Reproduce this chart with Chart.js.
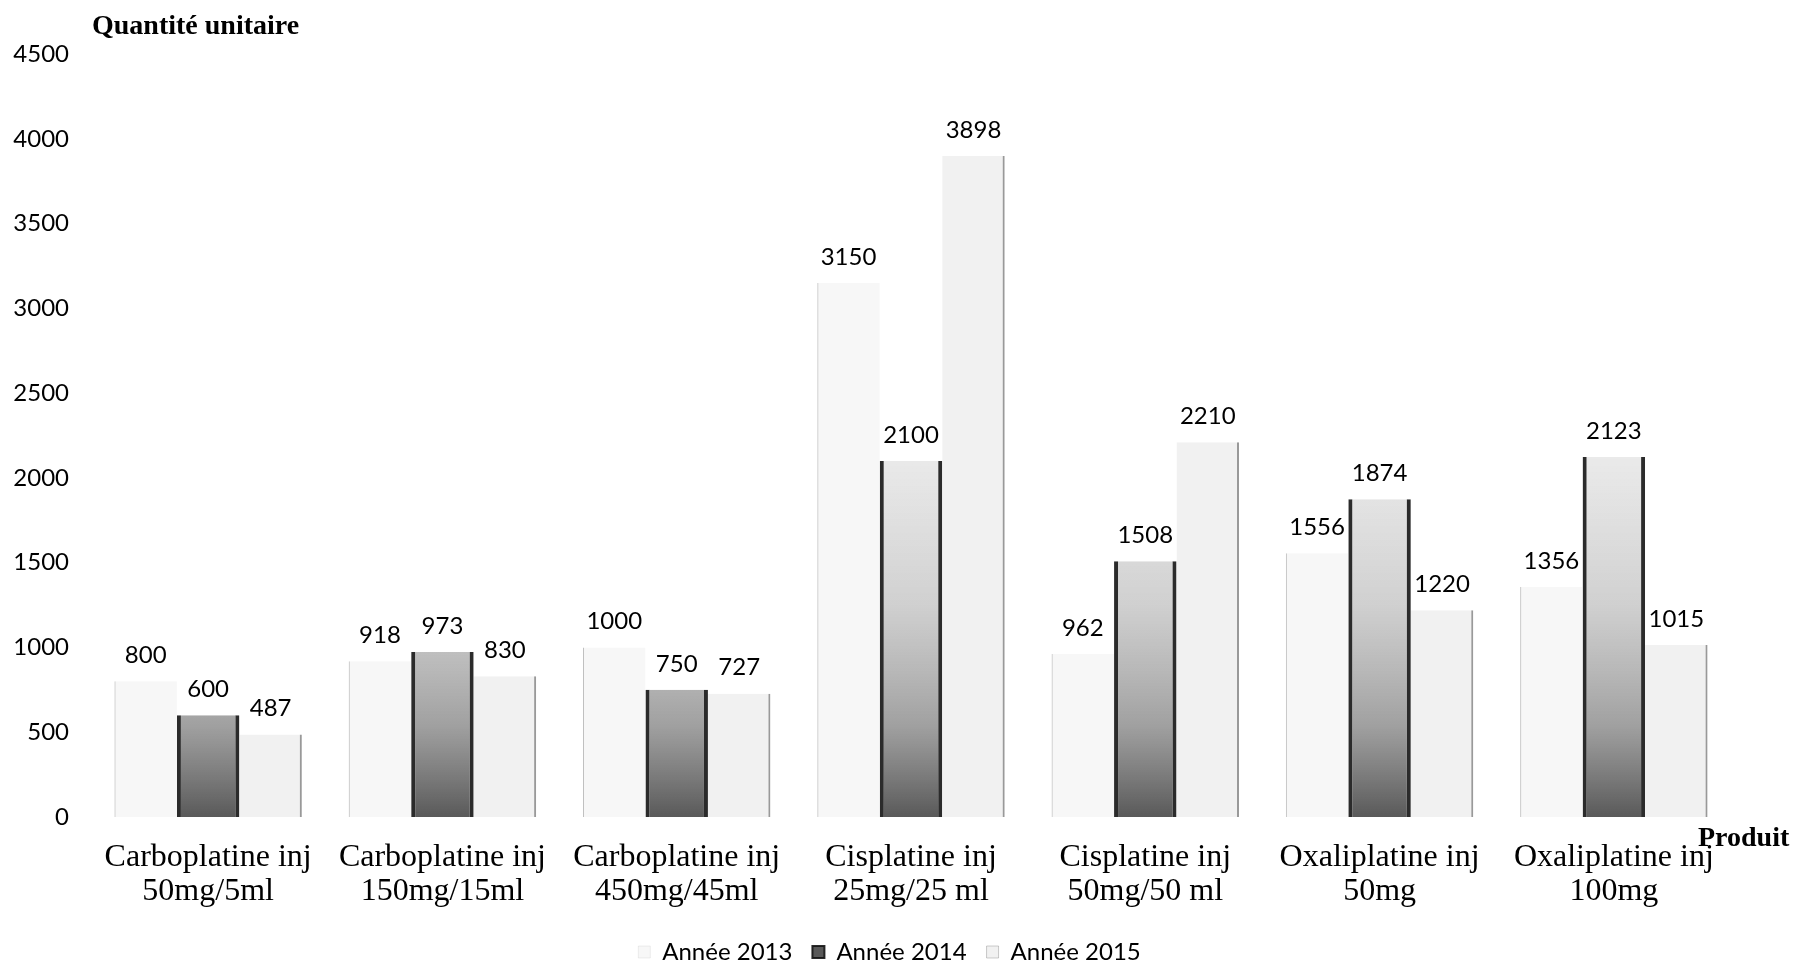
<!DOCTYPE html>
<html>
<head>
<meta charset="utf-8">
<script src="https://cdn.jsdelivr.net/npm/chart.js@4.4.1/dist/chart.umd.min.js"></script>
<style>
  html, body { margin: 0; padding: 0; background: #fff; }
  #wrap { width: 1799px; height: 963px; }
</style>
</head>
<body>
<div id="wrap"><canvas id="barChart"></canvas></div>
<script>
const produits = [
    ['Carboplatine inj', '50mg/5ml'],
    ['Carboplatine inj', '150mg/15ml'],
    ['Carboplatine inj', '450mg/45ml'],
    ['Cisplatine inj', '25mg/25 ml'],
    ['Cisplatine inj', '50mg/50 ml'],
    ['Oxaliplatine inj', '50mg'],
    ['Oxaliplatine inj', '100mg']
];
const annee2013 = [800, 918, 1000, 3150, 962, 1556, 1356];
const annee2014 = [600, 973, 750, 2100, 1508, 1874, 2123];
const annee2015 = [487, 830, 727, 3898, 2210, 1220, 1015];
const yTicks = [0, 500, 1000, 1500, 2000, 2500, 3000, 3500, 4000, 4500];

// dark at the bottom, fading up (scanned look)
function grad2014(c) {
    const area = c.chart.chartArea;
    if (!area) return 'rgba(110,110,110,0.8)';
    const g = c.chart.ctx.createLinearGradient(0, area.bottom, 0, area.top);
    g.addColorStop(0, 'rgba(60,60,60,0.85)');
    g.addColorStop(0.12, 'rgba(120,120,120,0.7)');
    g.addColorStop(0.28, 'rgba(170,170,170,0.55)');
    g.addColorStop(0.5, 'rgba(215,215,215,0.45)');
    g.addColorStop(1, 'rgba(235,235,235,0.4)');
    return g;
}

const labelPlugin = {
    id: 'valeurs',
    afterLayout(chart) {
        // legend sits a bit lower and more to the right in the original
        const lg = chart.legend;
        lg.top += 11; lg.bottom += 11;
        lg.left += 24; lg.right += 24;
    },
    afterDatasetsDraw(chart) {
        const ctx = chart.ctx;
        ctx.save();
        ctx.font = '24px Lato';
        ctx.fillStyle = '#000';
        ctx.textAlign = 'center';
        ctx.textBaseline = 'bottom';
        chart.data.datasets.forEach((ds, i) => {
            chart.getDatasetMeta(i).data.forEach((bar, j) => {
                ctx.fillText(ds.data[j], bar.x, bar.y - 14);
            });
        });
        // axis titles
        ctx.font = 'bold 28px "Liberation Serif"';
        ctx.textAlign = 'left';
        ctx.textBaseline = 'alphabetic';
        ctx.fillText('Quantité unitaire', 92, 34);
        ctx.fillText('Produit', 1698, 846);
        ctx.restore();
    }
};

new Chart(document.getElementById('barChart'), {
    type: 'bar',
    data: {
        labels: produits,
        datasets: [{
            label: 'Année 2013',
            data: annee2013,
            backgroundColor: 'rgba(225,225,225,0.25)',
            borderColor: 'rgba(150,150,150,0.6)',
            borderWidth: {left: 1, right: 0, top: 0, bottom: 0},
            borderSkipped: false
        }, {
            label: 'Année 2014',
            data: annee2014,
            backgroundColor: grad2014,
            borderColor: 'rgba(20,20,20,0.9)',
            borderWidth: {left: 4, right: 4, top: 0, bottom: 0},
            borderSkipped: false
        }, {
            label: 'Année 2015',
            data: annee2015,
            backgroundColor: 'rgba(215,215,215,0.35)',
            borderColor: 'rgba(110,110,110,0.7)',
            borderWidth: {left: 0, right: 2, top: 0, bottom: 0},
            borderSkipped: false
        }]
    },
    options: {
        responsive: true,
        maintainAspectRatio: false,
        animation: false,
        layout: {
            padding: {top: 54, right: 68, left: 0, bottom: 0}
        },
        datasets: {
            bar: {categoryPercentage: 0.8, barPercentage: 1}
        },
        scales: {
            x: {
                grid: {display: false},
                border: {display: false},
                afterFit(scale) { scale.height = 92; },
                ticks: {
                    color: '#000',
                    maxRotation: 0,
                    autoSkip: false,
                    padding: 15,
                    font: {family: '"Liberation Serif"', size: 32, lineHeight: 1.07}
                }
            },
            y: {
                min: 0,
                max: 4500,
                grid: {display: false},
                border: {display: false},
                afterFit(scale) { scale.width = 91; },
                afterBuildTicks(scale) { scale.ticks = yTicks.map(v => ({value: v})); },
                ticks: {
                    color: '#000',
                    padding: 14,
                    font: {family: 'Lato', size: 24},
                    callback: v => String(v)
                }
            }
        },
        plugins: {
            legend: {
                position: 'bottom',
                labels: {
                    color: '#000',
                    boxWidth: 12,
                    boxHeight: 12,
                    padding: 20,
                    font: {family: 'Lato', size: 24}
                }
            },
            tooltip: {enabled: false}
        }
    },
    plugins: [labelPlugin]
});
</script>
</body>
</html>
